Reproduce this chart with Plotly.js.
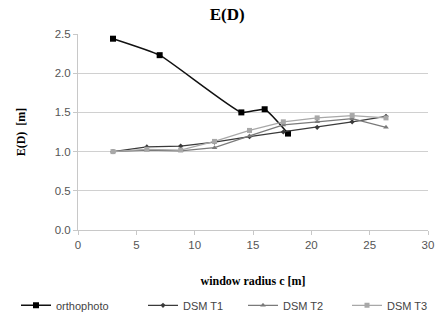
<!DOCTYPE html>
<html><head><meta charset="utf-8">
<script src="https://cdn.plot.ly/plotly-3.0.1.min.js"></script>
<style>html,body{margin:0;padding:0;background:#fff;}#chart{width:441px;height:318px;}</style>
</head><body><div id="chart"></div>
<script>
var orthoX = [3, 7, 14, 16, 18];
var orthoY = [2.44, 2.23, 1.50, 1.54, 1.23];
var dsmX = [3, 5.9, 8.8, 11.7, 14.7, 17.6, 20.5, 23.5, 26.4];
var dsmT1 = [1.00, 1.06, 1.07, 1.12, 1.19, 1.25, 1.31, 1.38, 1.45];
var dsmT2 = [1.00, 1.02, 1.01, 1.05, 1.20, 1.34, 1.38, 1.42, 1.31];
var dsmT3 = [1.00, 1.03, 1.02, 1.13, 1.27, 1.38, 1.43, 1.46, 1.43];
var xTicks = [0, 5, 10, 15, 20, 25, 30];
var yTicks = [0, 0.5, 1.0, 1.5, 2.0, 2.5];

var traces = [
  {x: orthoX, y: orthoY, name: 'orthophoto', legend: 'legend', mode: 'lines+markers', line: {color: '#111', width: 1.5, shape: 'spline', smoothing: 0.4}, marker: {symbol: 'square', size: 6, color: '#000'}},
  {x: dsmX, y: dsmT1, name: 'DSM T1', legend: 'legend2', mode: 'lines+markers', line: {color: '#3a3a3a', width: 1.2}, marker: {symbol: 'diamond', size: 4, color: '#3a3a3a'}},
  {x: dsmX, y: dsmT2, name: 'DSM T2', legend: 'legend3', mode: 'lines+markers', line: {color: '#7a7a7a', width: 1.2}, marker: {symbol: 'triangle-up', size: 5, color: '#7a7a7a'}},
  {x: dsmX, y: dsmT3, name: 'DSM T3', legend: 'legend4', mode: 'lines+markers', line: {color: '#a8a8a8', width: 1.2}, marker: {symbol: 'square', size: 5, color: '#a8a8a8'}}
];

function leg(px) {
  return {orientation: 'h', xref: 'container', yref: 'container', x: px / 441, xanchor: 'left', y: 0.04, yanchor: 'middle',
    font: {family: 'Liberation Sans, sans-serif', size: 11, color: '#444'}, itemwidth: 30, bgcolor: 'rgba(0,0,0,0)'};
}

var layout = {
  width: 441, height: 318,
  margin: {l: 78, r: 13, t: 34, b: 88},
  paper_bgcolor: '#fff', plot_bgcolor: '#fff',
  showlegend: true,
  title: {text: '<b>E(D)</b>', x: 0.515, xanchor: 'center', y: 0.955, yanchor: 'middle', font: {family: 'Liberation Serif, serif', size: 17, color: '#000'}},
  xaxis: {
    range: [0, 30], tickvals: xTicks, ticktext: xTicks.map(String), automargin: false,
    showgrid: false, zeroline: false, showline: true, linecolor: '#c8c8c8', linewidth: 1,
    ticks: 'outside', ticklen: 4, tickcolor: '#c8c8c8',
    tickfont: {family: 'Liberation Sans, sans-serif', size: 11.5, color: '#555'},
    title: {text: '<b>window radius c [m]</b>', standoff: 26, font: {family: 'Liberation Serif, serif', size: 12, color: '#000'}}
  },
  yaxis: {
    range: [0, 2.5], tickvals: yTicks, ticktext: ['0.0','0.5','1.0','1.5','2.0','2.5'], automargin: false,
    showgrid: true, gridcolor: '#d0d0d0', gridwidth: 1, zeroline: false,
    showline: true, linecolor: '#c8c8c8', linewidth: 1,
    ticks: 'outside', ticklen: 4, tickcolor: '#c8c8c8',
    tickfont: {family: 'Liberation Sans, sans-serif', size: 11.5, color: '#555'},
    title: {text: '<b>E(D)  [m]</b>', standoff: 26, font: {family: 'Liberation Serif, serif', size: 12, color: '#000'}}
  },
  legend: leg(16),
  legend2: leg(143),
  legend3: leg(243),
  legend4: leg(347)
};
Plotly.newPlot('chart', traces, layout, {displayModeBar: false, staticPlot: true});
</script></body></html>
